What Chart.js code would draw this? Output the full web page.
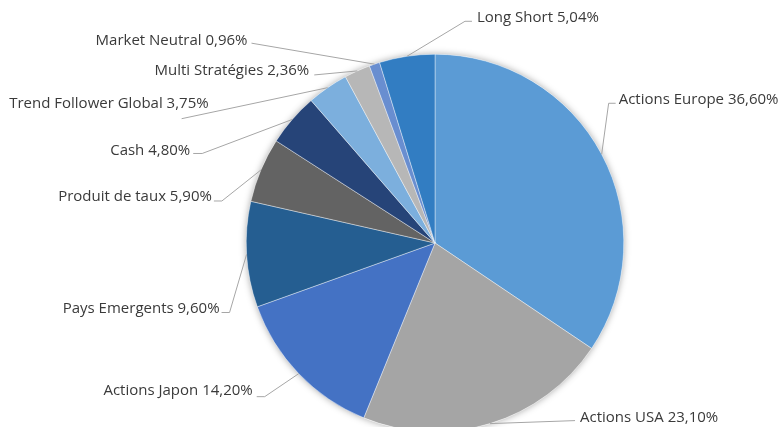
<!DOCTYPE html>
<html>
<head>
<meta charset="utf-8">
<script src="https://cdn.jsdelivr.net/npm/chart.js@4.4.0/dist/chart.umd.min.js"></script>
<style>
  html, body { margin: 0; padding: 0; background: #fff; overflow: hidden; }
  #wrap { width: 781px; height: 433px; position: relative; }
</style>
</head>
<body>
<div id="wrap"><canvas id="repartition"></canvas></div>
<script>
// répartition du portefeuille, en partant du haut, sens horaire
const categories = ['Actions Europe', 'Actions USA', 'Actions Japon', 'Pays Emergents', 'Produit de taux', 'Cash', 'Trend Follower Global', 'Multi Stratégies', 'Market Neutral', 'Long Short'];
const weights = [36.60, 23.10, 14.20, 9.60, 5.90, 4.80, 3.75, 2.36, 0.96, 5.04];
const sliceColors = ['#5b9bd5', '#a5a5a5', '#4472c4', '#255e91', '#636363', '#264478', '#7cafdd', '#b7b7b7', '#698ed0', '#327dc2'];

// placement des étiquettes : coude relatif au bord de la part, amorce, texte relatif au coude
const labelLayout = [
    { dx: 7, dy: -51, stub: 7, align: 'left', tx: 10, ty: -4 },
    { dx: 85, dy: -3, stub: 0, align: 'left', tx: 5, ty: -3 },
    { dx: -34, dy: 23, stub: -8, align: 'right', tx: -12, ty: -6 },
    { dx: -17, dy: 58, stub: -8, align: 'right', tx: -10, ty: -4 },
    { dx: -39, dy: 31, stub: -8, align: 'right', tx: -10, ty: -4 },
    { dx: -90, dy: 34, stub: -9, align: 'right', tx: -12, ty: -3 },
    { dx: -146, dy: 31, stub: 0, align: 'right', tx: 27, ty: -15 },
    { dx: -43, dy: 4, stub: 0, align: 'right', tx: -5, ty: -4 },
    { dx: -123, dy: -21, stub: 0, align: 'right', tx: -4, ty: -2 },
    { dx: 58, dy: -35, stub: 7, align: 'left', tx: 12, ty: -4 }
];

function fmtPct(v) {
    return v.toFixed(2).replace('.', ',') + '%';
}

const pieShadow = {
    id: 'pieShadow',
    beforeDatasetsDraw(chart) {
        const arc = chart.getDatasetMeta(0).data[0];
        if (!arc) return;
        const ctx = chart.ctx;
        ctx.save();
        ctx.shadowColor = 'rgba(0,0,0,0.35)';
        ctx.shadowBlur = 7;
        ctx.fillStyle = '#ffffff';
        ctx.beginPath();
        ctx.arc(arc.x, arc.y, arc.outerRadius, 0, Math.PI * 2);
        ctx.fill();
        ctx.restore();
    }
};

const leaderLabels = {
    id: 'leaderLabels',
    afterDatasetsDraw(chart) {
        const ctx = chart.ctx;
        const arcs = chart.getDatasetMeta(0).data;
        ctx.save();
        ctx.font = '15px "Open Sans"';
        ctx.textBaseline = 'middle';
        arcs.forEach((arc, i) => {
            const p = arc.getProps(['x', 'y', 'startAngle', 'endAngle', 'outerRadius'], true);
            const mid = (p.startAngle + p.endAngle) / 2;
            const ex = p.x + Math.cos(mid) * p.outerRadius;
            const ey = p.y + Math.sin(mid) * p.outerRadius;
            const L = labelLayout[i];
            const kx = ex + L.dx, ky = ey + L.dy;
            ctx.strokeStyle = '#a6a6a6';
            ctx.lineWidth = 1;
            ctx.beginPath();
            ctx.moveTo(ex, ey);
            ctx.lineTo(kx, ky);
            if (L.stub) ctx.lineTo(kx + L.stub, ky);
            ctx.stroke();
            ctx.fillStyle = '#3a3a3a';
            ctx.textAlign = L.align;
            ctx.fillText(categories[i] + ' ' + fmtPct(weights[i]), kx + L.tx, ky + L.ty);
        });
        ctx.restore();
    }
};

const ctx = document.getElementById('repartition').getContext('2d');
const chart = new Chart(ctx, {
    type: 'pie',
    data: {
        labels: categories,
        datasets: [{
            data: weights,
            backgroundColor: sliceColors,
            borderColor: '#ffffff',
            borderWidth: 0.4
        }]
    },
    options: {
        responsive: true,
        maintainAspectRatio: false,
        animation: false,
        layout: {
            padding: { left: 246, right: 157, top: 54, bottom: 1 }
        },
        plugins: {
            legend: { display: false },
            tooltip: { enabled: false }
        }
    },
    plugins: [pieShadow, leaderLabels]
});
</script>
</body>
</html>
